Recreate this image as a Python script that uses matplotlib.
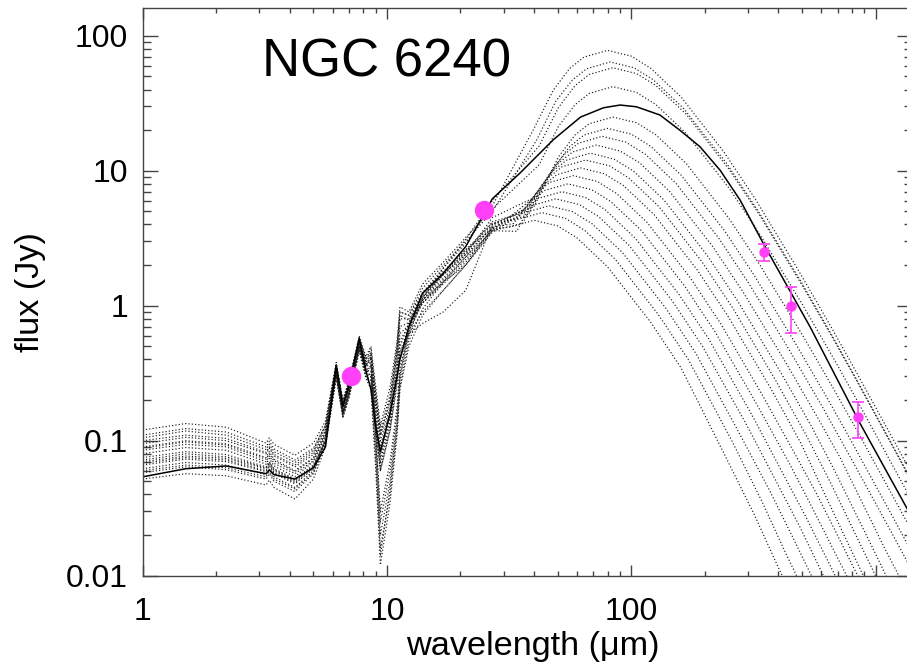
import matplotlib
matplotlib.use("Agg")
import matplotlib.pyplot as plt
from matplotlib.ticker import LogLocator, NullFormatter

plt.rcParams["font.family"] = ["Liberation Sans", "DejaVu Sans"]

# wavelength grid (um) shared by the mid-IR part of every model
MIR_WAVE = [1.0, 1.5, 2.2, 3.2, 3.3, 3.45, 4.2, 5.0, 5.6, 6.2, 6.6, 7.0, 7.7,
            8.2, 8.6, 9.0, 9.4, 10.3, 11.0, 11.3, 12.3, 14, 17, 21, 27]

# best fit (solid line)
FIT_MIR = [0.054, 0.062, 0.065, 0.057, 0.061, 0.056, 0.052, 0.063, 0.09, 0.36,
           0.18, 0.26, 0.57, 0.33, 0.24, 0.127, 0.083, 0.16, 0.30, 0.40, 0.70,
           1.24, 1.74, 2.74, 6.2]
FIT_FIR_WAVE = [35, 48, 62, 77, 90, 105, 131, 158, 191, 231, 279, 347, 539, 863, 1410]
FIT_FIR = [9.6, 17, 25, 29.3, 30.7, 29.8, 25.9, 20, 15.1, 10.1, 6.07, 2.9, 0.70, 0.135, 0.027]

# other models (dotted lines), mid-IR part on MIR_WAVE
MODEL_MIR = [
    [0.075, 0.083, 0.079, 0.064, 0.070, 0.062, 0.052, 0.066, 0.105, 0.34, 0.17, 0.24, 0.55,
     0.36, 0.42, 0.16, 0.07, 0.14, 0.32, 0.5, 0.75, 1.25, 1.9, 2.9, 5.5],
    [0.095, 0.106, 0.10, 0.08, 0.088, 0.077, 0.064, 0.079, 0.12, 0.36, 0.19, 0.26, 0.58,
     0.40, 0.48, 0.22, 0.11, 0.2, 0.5, 0.9, 0.85, 1.35, 2.0, 3.0, 5.0],
    [0.062, 0.069, 0.066, 0.056, 0.061, 0.054, 0.045, 0.060, 0.10, 0.31, 0.16, 0.22, 0.5,
     0.3, 0.26, 0.07, 0.014, 0.045, 0.13, 0.28, 0.6, 1.15, 1.9, 3.1, 6.0],
    [0.12, 0.134, 0.126, 0.096, 0.105, 0.094, 0.078, 0.096, 0.14, 0.38, 0.2, 0.28, 0.6,
     0.42, 0.5, 0.25, 0.13, 0.25, 0.55, 0.98, 0.9, 1.45, 2.1, 3.2, 5.2],
    [0.085, 0.094, 0.09, 0.07, 0.077, 0.068, 0.057, 0.071, 0.11, 0.33, 0.17, 0.25, 0.52,
     0.34, 0.3, 0.12, 0.065, 0.13, 0.3, 0.45, 0.7, 1.1, 1.6, 2.4, 4.5],
    [0.07, 0.077, 0.074, 0.062, 0.068, 0.06, 0.05, 0.064, 0.1, 0.32, 0.16, 0.23, 0.5,
     0.32, 0.36, 0.1, 0.02, 0.05, 0.14, 0.3, 0.65, 1.1, 1.7, 2.5, 4.0],
    [0.105, 0.118, 0.11, 0.086, 0.094, 0.083, 0.069, 0.085, 0.13, 0.37, 0.19, 0.27, 0.56,
     0.38, 0.44, 0.2, 0.1, 0.18, 0.45, 0.8, 0.8, 1.2, 1.7, 2.4, 3.8],
    [0.058, 0.064, 0.061, 0.052, 0.057, 0.05, 0.042, 0.057, 0.095, 0.3, 0.15, 0.21, 0.47,
     0.3, 0.28, 0.08, 0.016, 0.04, 0.12, 0.25, 0.55, 0.95, 1.5, 2.3, 3.6],
    [0.09, 0.1, 0.095, 0.075, 0.083, 0.073, 0.06, 0.075, 0.115, 0.35, 0.18, 0.25, 0.54,
     0.35, 0.38, 0.14, 0.075, 0.15, 0.34, 0.55, 0.72, 1.05, 1.5, 2.2, 3.6],
    [0.066, 0.073, 0.07, 0.059, 0.065, 0.057, 0.048, 0.062, 0.1, 0.32, 0.16, 0.23, 0.5,
     0.33, 0.3, 0.13, 0.06, 0.12, 0.28, 0.42, 0.62, 0.9, 1.3, 2.0, 3.6],
    [0.08, 0.089, 0.085, 0.067, 0.074, 0.065, 0.054, 0.07, 0.11, 0.34, 0.17, 0.24, 0.53,
     0.36, 0.4, 0.18, 0.09, 0.17, 0.4, 0.7, 0.75, 1.05, 1.45, 2.1, 3.7],
    [0.052, 0.057, 0.055, 0.047, 0.051, 0.045, 0.037, 0.052, 0.09, 0.29, 0.15, 0.21, 0.46,
     0.29, 0.24, 0.06, 0.012, 0.035, 0.11, 0.24, 0.5, 0.85, 1.3, 2.0, 3.5],
    [0.1, 0.11, 0.104, 0.082, 0.09, 0.079, 0.066, 0.082, 0.125, 0.36, 0.19, 0.27, 0.56,
     0.37, 0.42, 0.2, 0.11, 0.2, 0.45, 0.85, 0.78, 1.1, 1.5, 2.0, 3.8],
    [0.072, 0.08, 0.076, 0.063, 0.069, 0.061, 0.051, 0.065, 0.1, 0.32, 0.17, 0.23, 0.51,
     0.33, 0.33, 0.12, 0.06, 0.12, 0.26, 0.45, 0.62, 0.74, 0.9, 1.3, 4.0],
    [0.06, 0.066, 0.063, 0.054, 0.059, 0.052, 0.044, 0.058, 0.095, 0.3, 0.15, 0.22, 0.48,
     0.31, 0.3, 0.11, 0.03, 0.07, 0.18, 0.35, 0.65, 1.05, 1.55, 2.3, 3.9],
    [0.088, 0.098, 0.093, 0.073, 0.08, 0.071, 0.059, 0.074, 0.115, 0.35, 0.18, 0.25, 0.54,
     0.36, 0.4, 0.15, 0.08, 0.16, 0.36, 0.62, 0.72, 1.15, 1.7, 2.5, 4.2],
    [0.068, 0.075, 0.072, 0.06, 0.066, 0.058, 0.049, 0.063, 0.1, 0.32, 0.16, 0.23, 0.5,
     0.33, 0.36, 0.12, 0.025, 0.06, 0.16, 0.32, 0.68, 1.15, 1.75, 2.6, 4.1],
    [0.11, 0.123, 0.116, 0.09, 0.099, 0.087, 0.072, 0.088, 0.13, 0.37, 0.2, 0.28, 0.58,
     0.4, 0.45, 0.22, 0.12, 0.22, 0.5, 0.9, 0.85, 1.25, 1.8, 2.6, 3.7],
]

# far-IR part of each dotted model
MODEL_FIR_WAVE = [
    [40, 48, 56, 64, 80, 100, 120, 160, 240, 320, 480, 640, 800, 1200, 1600],
    [41, 49, 57.4, 65.6, 82, 102.5, 123, 164, 246, 328, 492, 656, 820, 1230, 1640],
    [42, 50.4, 58.8, 67.2, 84, 105, 126, 168, 252, 336, 504, 672, 840, 1260, 1680],
    [42, 50.4, 58.8, 67.2, 84, 105, 126, 168, 252, 336, 504, 672, 840, 1260, 1680],
    [42, 50.4, 58.8, 67.2, 84, 105, 126, 168, 252, 336, 504, 672, 840, 1260, 1680],
    [40, 48, 56, 64, 80, 100, 120, 160, 240, 320, 480, 640, 800, 1200, 1600],
    [38, 45.6, 53.2, 60.8, 76, 95, 114, 152, 228, 304, 456, 608, 760, 1140, 1520],
    [36, 43.2, 50.4, 57.6, 72, 90, 108, 144, 216, 288, 432, 576, 720, 1080, 1440],
    [34, 40.8, 47.6, 54.4, 68, 85, 102, 136, 204, 272, 408, 544, 680, 1020, 1360],
    [39, 45.5, 52, 65, 81.3, 97.5, 130, 195, 260, 390, 520, 650, 975, 1300],
    [37.2, 43.4, 49.6, 62, 77.5, 93, 124, 186, 248, 372, 496, 620, 930],
    [34.8, 40.6, 46.4, 58, 72.5, 87, 116, 174, 232, 348, 464, 580, 870],
    [33, 38.5, 44, 55, 68.8, 82.5, 110, 165, 220, 330, 440, 550, 825],
    [36.4, 41.6, 52, 65, 78, 104, 156, 208, 312, 416, 520, 780],
    [34.3, 39.2, 49, 61.3, 73.5, 98, 147, 196, 294, 392, 490, 735],
    [36.8, 46, 57.5, 69, 92, 138, 184, 276, 368, 460, 690],
    [34.4, 43, 53.8, 64.5, 86, 129, 172, 258, 344, 430, 645],
    [32, 40, 50, 60, 80, 120, 160, 240, 320, 400, 600],
]
MODEL_FIR = [
    [20.6, 39.7, 57.3, 69.5, 78, 70.7, 57.6, 35.2, 13.7, 6.28, 1.87, 0.76, 0.37, 0.097, 0.037],
    [16.9, 32.6, 47.0, 57.0, 64, 58.0, 47.3, 28.9, 11.3, 5.15, 1.54, 0.624, 0.303, 0.079, 0.030],
    [15.3, 29.5, 42.6, 51.7, 58, 52.5, 42.9, 26.2, 10.2, 4.67, 1.39, 0.566, 0.275, 0.072, 0.027],
    [11.1, 21.4, 30.8, 37.4, 42, 38.1, 31.0, 18.9, 7.39, 3.38, 1.01, 0.41, 0.199, 0.052, 0.0197],
    [6.6, 12.7, 18.4, 22.3, 25, 22.7, 18.5, 11.3, 4.4, 2.01, 0.60, 0.244, 0.119, 0.031, 0.0118],
    [5.44, 10.5, 15.1, 18.4, 20.6, 18.7, 15.2, 9.29, 3.63, 1.66, 0.494, 0.201, 0.0976, 0.0255, 0.0097],
    [4.75, 9.16, 13.2, 16.0, 18, 16.3, 13.3, 8.12, 3.17, 1.45, 0.432, 0.176, 0.0853, 0.0223, 0.0085],
    [4.09, 7.89, 11.4, 13.8, 15.5, 14.0, 11.5, 6.99, 2.73, 1.25, 0.372, 0.151, 0.0735, 0.0165, 0.006],
    [3.56, 6.87, 9.91, 12.0, 13.5, 12.2, 9.98, 6.09, 2.38, 1.09, 0.324, 0.13, 0.06, 0.0135, 0.0045],
    [6.11, 8.81, 10.7, 12, 10.9, 8.87, 5.41, 2.11, 0.966, 0.28, 0.11, 0.05, 0.011, 0.0035],
    [5.34, 7.71, 9.36, 10.5, 9.51, 7.76, 4.74, 1.85, 0.845, 0.245, 0.095, 0.04, 0.0085],
    [4.68, 6.75, 8.20, 9.2, 8.34, 6.80, 4.15, 1.62, 0.741, 0.21, 0.082, 0.039, 0.009],
    [4.07, 5.87, 7.13, 8, 7.25, 5.91, 3.61, 1.41, 0.644, 0.18, 0.07, 0.032, 0.0075],
    [5.14, 6.24, 7, 6.34, 5.17, 3.16, 1.23, 0.564, 0.155, 0.058, 0.027, 0.0062],
    [4.55, 5.52, 6.2, 5.62, 4.58, 2.80, 1.09, 0.499, 0.135, 0.05, 0.023, 0.005],
    [4.90, 5.5, 4.98, 4.06, 2.48, 0.968, 0.443, 0.115, 0.043, 0.019, 0.0042],
    [4.37, 4.9, 4.44, 3.62, 2.21, 0.862, 0.394, 0.1, 0.035, 0.0145, 0.0032],
    [3.83, 4.3, 3.90, 3.18, 1.94, 0.757, 0.346, 0.08, 0.028, 0.0115, 0.0025],
]

# photometry
PHOT_WAVE = [7.1, 25.0]
PHOT_FLUX = [0.30, 5.1]
SUBMM_WAVE = [350, 450, 850]
SUBMM_FLUX = [2.5, 1.0, 0.15]
SUBMM_ERR = [0.37, 0.37, 0.045]

X_TICKS = [1, 10, 100, 1000]
X_TICK_LABELS = ["1", "10", "100", ""]
Y_TICKS = [0.01, 0.1, 1, 10, 100]
Y_TICK_LABELS = ["0.01", "0.1", "1", "10", "100"]

MAGENTA = "#ff40f8"

fig = plt.figure(figsize=(9.07, 6.66), dpi=100)
ax = fig.add_axes([0.1573, 0.1356, 0.8482, 0.8520])

for mir, fwave, fflux in zip(MODEL_MIR, MODEL_FIR_WAVE, MODEL_FIR):
    ax.plot(MIR_WAVE + fwave, mir + fflux, color="#1a1a1a",
            linestyle=(0, (1, 1.8)), linewidth=0.85)

ax.plot(MIR_WAVE + FIT_FIR_WAVE, FIT_MIR + FIT_FIR, color="black", linewidth=1.1)

ax.plot(PHOT_WAVE, PHOT_FLUX, "o", color=MAGENTA, markersize=13, zorder=5)
ax.errorbar(SUBMM_WAVE, SUBMM_FLUX, yerr=SUBMM_ERR, fmt="o", color=MAGENTA,
            markersize=6.5, elinewidth=1.2, capsize=4, capthick=1.2, zorder=5)

ax.set_xscale("log")
ax.set_yscale("log")
ax.set_xlim(1, 1410)
ax.set_ylim(0.01, 160)

ax.set_xticks(X_TICKS, X_TICK_LABELS)
ax.set_yticks(Y_TICKS, Y_TICK_LABELS)
ax.xaxis.set_minor_locator(LogLocator(base=10, subs=range(2, 10)))
ax.yaxis.set_minor_locator(LogLocator(base=10, subs=range(2, 10)))
ax.xaxis.set_minor_formatter(NullFormatter())
ax.yaxis.set_minor_formatter(NullFormatter())

ax.tick_params(which="both", direction="in", top=True, right=True,
               color="#444444", width=1.0, labelsize=23)
ax.tick_params(axis="x", which="major", length=8, pad=15)
ax.tick_params(axis="x", which="minor", length=3.8)
ax.tick_params(axis="y", which="major", length=11, pad=10.4)
ax.tick_params(axis="y", which="minor", length=5.8)
for spine in ax.spines.values():
    spine.set_color("#444444")
    spine.set_linewidth(1.0)

ax.set_xlabel("wavelength (μm)", fontsize=24.7)
ax.set_ylabel("flux (Jy)", fontsize=24.7)
ax.xaxis.set_label_coords(0.5073, -0.0975)
ax.yaxis.set_label_coords(-0.126, 0.499)

fig.text(261.7 / 907, 1 - 76.7 / 666, "NGC 6240", fontsize=38, va="baseline")

fig.savefig("out.png", dpi=100)
